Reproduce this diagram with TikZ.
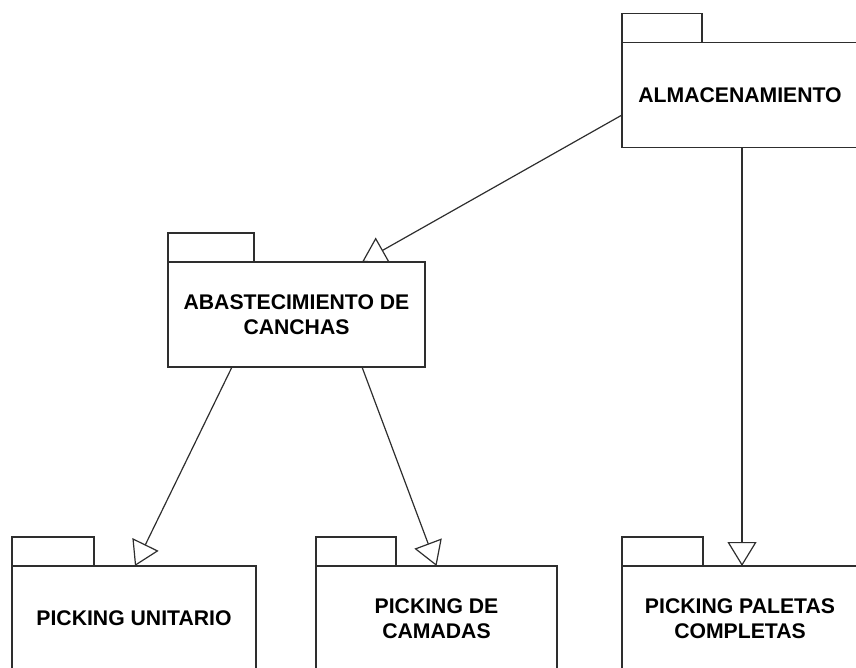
\documentclass[tikz,border=0pt]{standalone}
\usepackage{fontspec}
\setmainfont{Liberation Sans}
\usetikzlibrary{arrows.meta,positioning}
\definecolor{ink}{HTML}{2E2E2E}

\begin{document}
\begin{tikzpicture}[
 x=1pt,y=-1pt,
 pkg/.style={rectangle,draw=ink,fill=white,line width=1.5pt,outer sep=0pt,align=center,minimum height=105pt,font=\bfseries\fontsize{21.2}{25.5}\selectfont},
 tab/.style={rectangle,draw=ink,fill=white,line width=1.5pt,outer sep=0pt,minimum height=29pt},
 gen/.style={-{Triangle[open,length=24pt,width=29pt]},draw=ink,line width=1.2pt}
]
\useasboundingbox (0,0) rectangle (856,667);
\begin{scope}
\clip (0,0) rectangle (856,667);
% packages
\node[pkg,minimum width=236pt] (alm) at (740,95) {ALMACENAMIENTO};
\node[pkg,minimum width=257pt] (abas) at (296.5,314.5) {ABASTECIMIENTO DE\\CANCHAS};
\node[pkg,minimum width=244pt] (uni) at (134,618.5) {PICKING UNITARIO};
\node[pkg,minimum width=241pt] (cam) at (436.5,618.5) {PICKING DE\\CAMADAS};
\node[pkg,minimum width=236pt] (pal) at (740,618.5) {PICKING PALETAS\\COMPLETAS};
% tabs
\node[tab,minimum width=80pt,above right=0pt and 0pt of alm.north west] (almtab) {};
\node[tab,minimum width=86pt,above right=0pt and 0pt of abas.north west] (abastab) {};
\node[tab,minimum width=82pt,above right=0pt and 0pt of uni.north west] (unitab) {};
\node[tab,minimum width=80pt,above right=0pt and 0pt of cam.north west] (camtab) {};
\node[tab,minimum width=81pt,above right=0pt and 0pt of pal.north west] (paltab) {};
% generalizations
\draw[gen] ([yshift=-20pt]alm.west) -- ([xshift=-63pt]abas.north east);
\draw[gen] ([xshift=-64.5pt]abas.south) -- ([xshift=1pt]uni.north);
\draw[gen] ([xshift=65.5pt]abas.south) -- (cam.north);
\draw[gen] ([xshift=2pt]alm.south) -- ([xshift=2pt]pal.north);
\end{scope}
\end{tikzpicture}
\end{document}
